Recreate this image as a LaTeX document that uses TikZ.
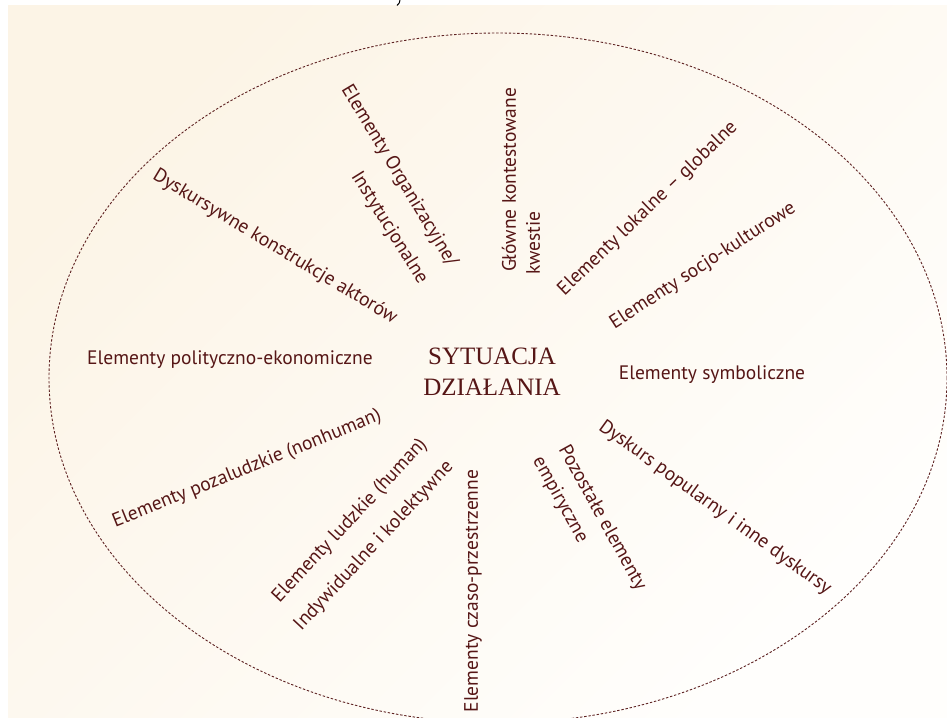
\documentclass[tikz,border=0pt]{standalone}
\usepackage{fontspec}
\setmainfont{PT Sans}
\newfontfamily\titlefont{Liberation Serif}
\definecolor{maroon}{HTML}{561616}
\definecolor{ringc}{HTML}{5E2222}
\definecolor{cream}{HTML}{FCF4E6}
\definecolor{paper}{HTML}{FFFEFC}
\tikzset{
  lbl/.style={text=maroon, font=\fontsize{19.5}{22}\selectfont, inner sep=0pt},
  titlenode/.style={text=maroon, font=\titlefont\fontsize{25}{31}\selectfont, align=center, inner sep=0pt},
  ring/.style={draw=ringc, line width=0.9pt, dash pattern=on 2.4pt off 1.8pt}
}
\begin{document}
\begin{tikzpicture}[x=1pt, y=-1pt]
\useasboundingbox (0,0) rectangle (947,717);
\fill[white] (0,0) rectangle (947,717);
\shade[top color=cream, bottom color=paper, shading angle=45] (8,6) rectangle (947,717);
\draw[black, line width=1pt] (400,0) .. controls (399.5,3) .. (397,5.5);
\draw[ring] (498,378) ellipse [x radius=449pt, y radius=345pt];

\node[titlenode] (sit) at (492,372) {SYTUACJA\\DZIAŁANIA};

\node[lbl, rotate=-59] (org1) at (399,176) {Elementy Organizacyjne/};
\node[lbl, rotate=-58] (org2) at (389,228) {Instytucjonalne};
\node[lbl, rotate=90] (glo1) at (509,180) {Główne kontestowane};
\node[lbl, rotate=90] (glo2) at (533,243) {kwestie};
\node[lbl, rotate=44] (lok) at (648,209) {Elementy lokalne – globalne};
\node[lbl, rotate=33] (soc) at (703,266) {Elementy socjo-kulturowe};
\node[lbl, rotate=-31] (dys) at (275,247) {Dyskursywne konstrukcje aktorów};
\node[lbl] (pol) at (230,360) {Elementy polityczno-ekonomiczne};
\node[lbl] (sym) at (712,375) {Elementy symboliczne};
\node[lbl, rotate=22] (poz) at (247,469) {Elementy pozaludzkie (nonhuman)};
\node[lbl, rotate=47] (lud) at (350,521) {Elementy ludzkie (human)};
\node[lbl, rotate=47] (ind) at (374,546) {Indywidualne i kolektywne};
\node[lbl, rotate=90] (cza) at (473,591) {Elementy czaso-przestrzenne};
\node[lbl, rotate=-61] (pozo) at (602,518) {Pozostałe elementy};
\node[lbl, rotate=-61] (emp) at (560,500) {empiryczne};
\node[lbl, rotate=-36] (dyp) at (715,508) {Dyskurs popularny i inne dyskursy};
\end{tikzpicture}
\end{document}
